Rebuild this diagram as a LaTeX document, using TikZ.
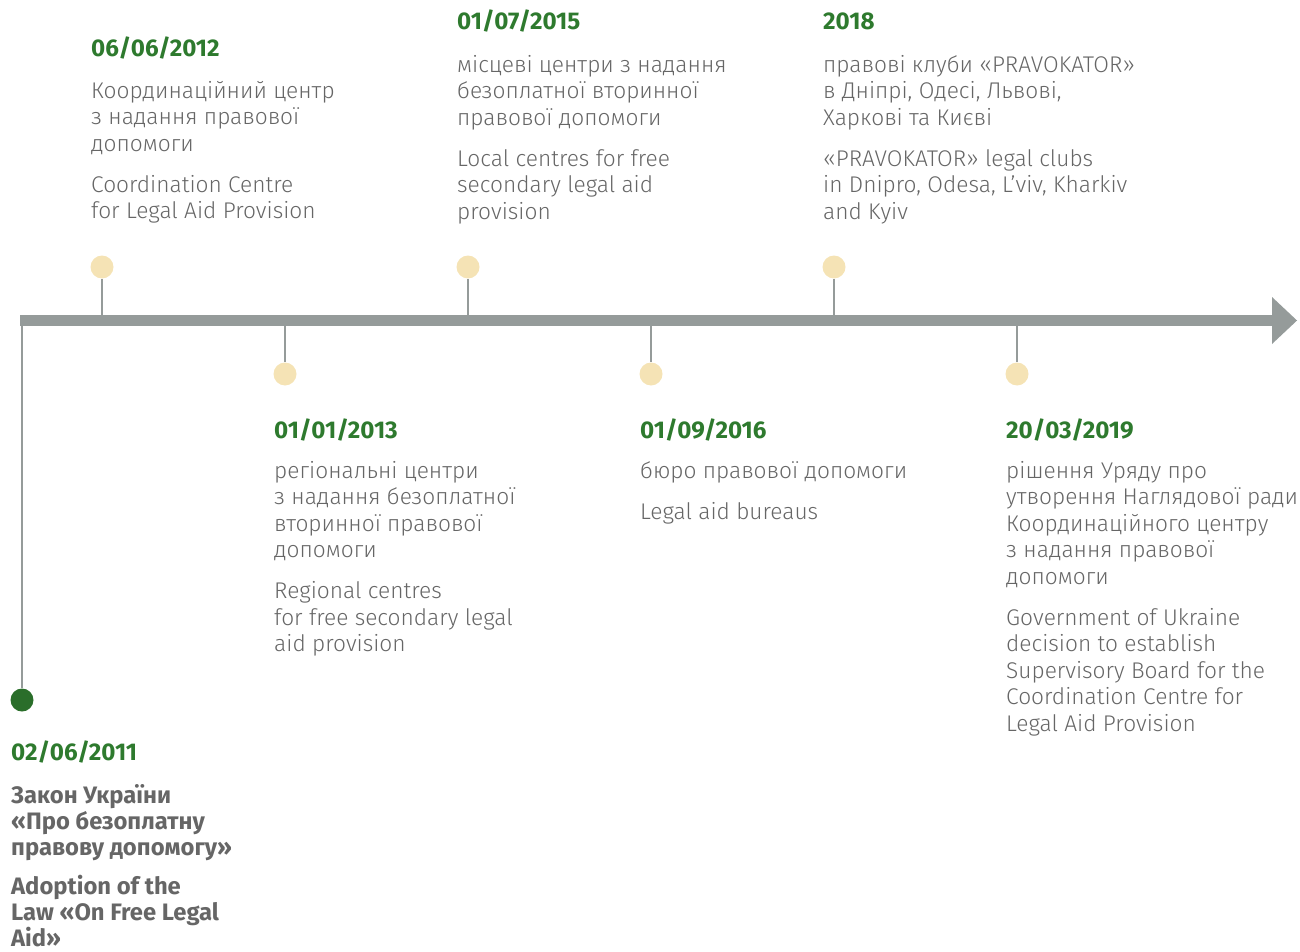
\documentclass[tikz,border=0pt]{standalone}
\usepackage{fontspec}
\setmainfont{Fira Sans}[UprightFont=* Light, BoldFont=* Bold]
\definecolor{txt}{HTML}{666666}
\definecolor{dategreen}{HTML}{2E7A2E}
\definecolor{bar}{HTML}{959B9A}
\definecolor{dot}{HTML}{F5E3B5}
\definecolor{startdot}{HTML}{2A6E2A}
\tikzset{
  date/.style={anchor=base west, inner sep=0pt, text=dategreen, font=\fontsize{24.2}{26.5}\selectfont\bfseries},
  body/.style={anchor=north west, inner sep=0pt, align=left, text=txt, font=\fontsize{22.7}{26.5}\selectfont},
  boldbody/.style={body, font=\fontsize{23.8}{26}\selectfont\bfseries},
  tickline/.style={draw=bar, line width=2.5pt},
  evdot/.style={circle, fill=dot, minimum size=23pt, inner sep=0pt},
}
\newcommand{\fl}{\rule{0pt}{18pt}}
\begin{document}
\begin{tikzpicture}[x=1pt,y=-1pt]
\useasboundingbox (0,0) rectangle (1300,952);
% main bar
\coordinate (barL) at (20,320.5);
\coordinate (barR) at (1272,320.5);
\draw[bar, line width=11pt] (barL) -- (barR);
\fill[bar] (1272,297) -- (1297,320.5) -- (1272,344) -- cycle;
% start
\coordinate (s0) at (22,315);
\node[circle, fill=startdot, minimum size=23pt, inner sep=0pt] (c2011) at (22,700) {};
\draw[tickline] (s0) -- (c2011);
% ticks and dots
\foreach \n/\x/\y in {2012/102/267, 2015/468/267, 2018/834/267, 2013/285/374, 2016/651/374, 2019/1017/374}{
  \coordinate (b\n) at (\x,320.5);
  \node[evdot] (c\n) at (\x,\y) {};
  \draw[tickline] (b\n) -- (c\n);
}
% 2011
\node[date] (d2011) at (11,760) {02/06/2011};
\node[boldbody] (t2011) at (11,784) {\fl Закон України\\«Про безоплатну\\правову допомогу»\\[13pt]Adoption of the\\Law «On Free Legal\\Aid»};
% 2012
\node[date] (d2012) at (91,57) {06/06/2012};
\node[body] (t2012) at (91,80) {\fl Координаційний центр\\з надання правової\\допомоги\\[14.5pt]Coordination Centre\\for Legal Aid Provision};
% 2015
\node[date] (d2015) at (457,30) {01/07/2015};
\node[body] (t2015) at (457,54) {\fl місцеві центри з надання\\безоплатної вторинної\\правової допомоги\\[14.5pt]Local centres for free\\secondary legal aid\\provision};
% 2018
\node[date] (d2018) at (823,30) {2018};
\node[body] (t2018) at (823,54) {\fl правові клуби «PRAVOKATOR»\\в Дніпрі, Одесі, Львові,\\Харкові та Києві\\[14.5pt]«PRAVOKATOR» legal clubs\\in Dnipro, Odesa, L’viv, Kharkiv\\and Kyiv};
% 2013
\node[date] (d2013) at (274,438) {01/01/2013};
\node[body] (t2013) at (274,460) {\fl регіональні центри\\з надання безоплатної\\вторинної правової\\допомоги\\[14.5pt]Regional centres\\for free secondary legal\\aid provision};
% 2016
\node[date] (d2016) at (640,438) {01/09/2016};
\node[body] (t2016) at (640,460) {\fl бюро правової допомоги\\[14.5pt]Legal aid bureaus};
% 2019
\node[date] (d2019) at (1006,438) {20/03/2019};
\node[body] (t2019) at (1006,460) {\fl рішення Уряду про\\утворення Наглядової ради\\Координаційного центру\\з надання правової\\допомоги\\[14.5pt]Government of Ukraine\\decision to establish\\Supervisory Board for the\\Coordination Centre for\\Legal Aid Provision};
\end{tikzpicture}
\end{document}
